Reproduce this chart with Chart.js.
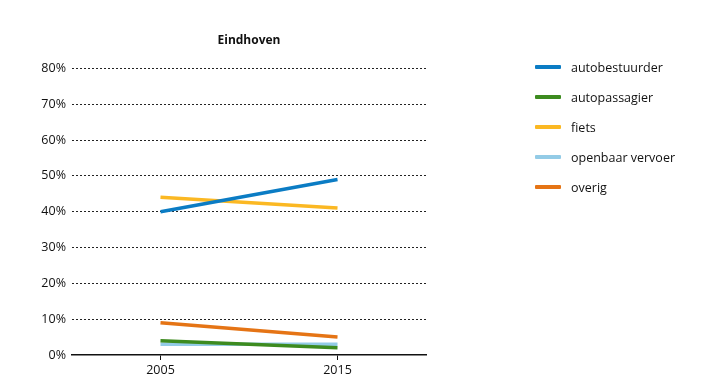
<!DOCTYPE html>
<html>
<head>
<meta charset="utf-8">
<script src="https://cdn.jsdelivr.net/npm/chart.js@4"></script>
<style>
  body { margin: 0; background: #fff; }
  #wrap { position: relative; width: 724px; height: 389px; }
  #legend { position: absolute; left: 535px; top: 58px; font-family: "Open Sans", sans-serif; font-size: 12.5px; color: #111; }
  #legend div { display: flex; align-items: center; height: 18px; margin-bottom: 12px; }
  #legend span.sw { display: inline-block; width: 26px; height: 4px; margin-right: 10px; border-radius: 1px; }
</style>
</head>
<body>
<div id="wrap">
  <canvas id="chart" width="724" height="389"></canvas>
  <div id="legend"></div>
</div>
<script>
// data
var years = ["2005", "2015"];
var seriesNames = ["autobestuurder", "autopassagier", "fiets", "openbaar vervoer", "overig"];
var autobestuurder = [40, 49];
var autopassagier = [4, 2];
var fiets = [44, 41];
var openbaarVervoer = [3, 3];
var overig = [9, 5];
var colors = ["#0b7cc4", "#3d8b1f", "#fbb823", "#93cbe6", "#e57415"];

var allValues = [autobestuurder, autopassagier, fiets, openbaarVervoer, overig];

var datasets = seriesNames.map(function (name, i) {
  return {
    label: name,
    data: allValues[i],
    borderColor: colors[i],
    backgroundColor: colors[i],
    borderWidth: 3.5,
    pointRadius: 0,
    fill: false,
    tension: 0
  };
});

// legend built in html
var legendBox = document.getElementById("legend");
seriesNames.forEach(function (name, i) {
  var row = document.createElement("div");
  row.innerHTML = '<span class="sw" style="background:' + colors[i] + '"></span>' + name;
  legendBox.appendChild(row);
});

var font = "'Open Sans', sans-serif";

new Chart(document.getElementById("chart"), {
  type: "line",
  data: { labels: years, datasets: datasets },
  options: {
    responsive: false,
    animation: false,
    layout: { padding: { left: 0, right: 298, top: 0, bottom: 0 } },
    plugins: {
      legend: { display: false },
      tooltip: { enabled: false },
      title: {
        display: true,
        text: "Eindhoven",
        fullSize: false,
        color: "#111",
        font: { family: font, size: 12, weight: "bold" },
        padding: { top: 33, bottom: 21 }
      }
    },
    scales: {
      x: {
        offset: true,
        grid: { offset: false, drawOnChartArea: false, drawTicks: true, tickLength: 5, color: "#111", lineWidth: 1 },
        border: { display: true, color: "#111", width: 1.5 },
        ticks: { color: "#111", font: { family: font, size: 12.5 }, padding: 3 },
        afterFit: function (scale) { scale.height = 34; }
      },
      y: {
        min: 0,
        max: 80,
        ticks: {
          stepSize: 10,
          color: "#111",
          font: { family: font, size: 12.5 },
          padding: 6,
          callback: function (v) { return v + "%"; }
        },
        grid: {
          drawTicks: false,
          color: function (ctx) { return ctx.tick && ctx.tick.value === 0 ? "rgba(0,0,0,0)" : "#222"; },
          lineWidth: 1
        },
        border: { display: false, dash: [2, 2] },
        afterFit: function (scale) { scale.width = 72; }
      }
    }
  }
});
</script>
</body>
</html>
